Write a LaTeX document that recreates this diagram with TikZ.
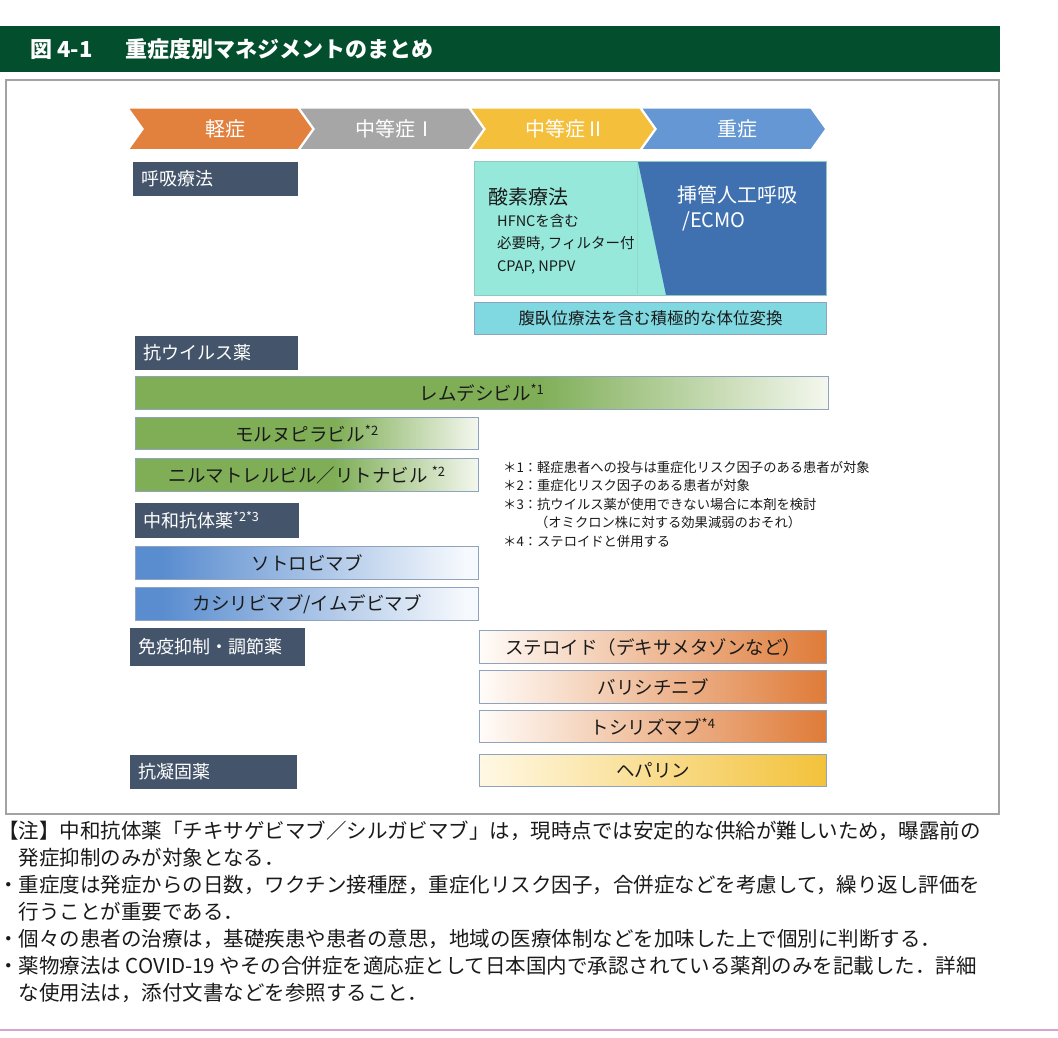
\documentclass[tikz,border=0pt]{standalone}
\usepackage{fontspec}
\setmainfont{Noto Sans CJK JP}
\definecolor{hgreen}{HTML}{034E2D}
\definecolor{slate}{HTML}{44546A}
\definecolor{chO}{HTML}{E2803E}
\definecolor{chG}{HTML}{A6A6A6}
\definecolor{chY}{HTML}{F4BF3A}
\definecolor{chB}{HTML}{6497D3}
\definecolor{teal}{HTML}{96E8DA}
\definecolor{dkblue}{HTML}{3F71B0}
\definecolor{cyanbox}{HTML}{80D9E1}
\definecolor{barline}{HTML}{8FA2BE}
\definecolor{gG}{HTML}{7FAE57}
\definecolor{gW}{HTML}{F4F7EE}
\definecolor{bB}{HTML}{5A8DCF}
\definecolor{bW}{HTML}{F6F9FD}
\definecolor{oW}{HTML}{FFFCF9}
\definecolor{oO}{HTML}{DF7B38}
\definecolor{yW}{HTML}{FFF8E4}
\definecolor{yY}{HTML}{F3C23A}
\definecolor{framegray}{HTML}{A3A3A3}
\definecolor{pinkline}{HTML}{D3A5CF}
\definecolor{txt}{HTML}{1A1A1A}
\pgfdeclarehorizontalshading{greenfade}{100bp}{color(0bp)=(gG); color(25bp)=(gG); color(54bp)=(gG); color(75bp)=(gW); color(100bp)=(gW)}
\pgfdeclarehorizontalshading{bluefade}{100bp}{color(0bp)=(bB); color(25bp)=(bB); color(29bp)=(bB); color(73bp)=(bW); color(100bp)=(bW)}
\pgfdeclarehorizontalshading{orangefade}{100bp}{color(0bp)=(oW); color(25bp)=(oW); color(75bp)=(oO); color(100bp)=(oO)}
\pgfdeclarehorizontalshading{yellowfade}{100bp}{color(0bp)=(yW); color(25bp)=(yW); color(75bp)=(yY); color(100bp)=(yY)}
\newcommand\chevshape[2]{\fill[#2, draw=white, line width=1.5pt] ({#1},108) -- ({#1+170},108) -- ({#1+185},129) -- ({#1+170},150) -- ({#1},150) -- ({#1+15},129) -- cycle;}
\begin{document}
\begin{tikzpicture}[x=1pt,y=-1pt,
  lab/.style={fill=slate, draw=slate, text=white, anchor=north west, inner xsep=8pt, inner ysep=0pt, align=left, font=\fontsize{18}{21}\selectfont},
  bar/.style={draw=barline, line width=1.2pt, anchor=north west, inner sep=0pt, font=\fontsize{18.5}{22}\selectfont, text=txt},
  chevtxt/.style={text=white, font=\fontsize{20}{24}\selectfont}]
\useasboundingbox (0,0) rectangle (1058,1038);
\fill[white] (0,0) rectangle (1058,1038);
% header
\fill[hgreen] (0,26) rectangle (1000,72);
\node[anchor=west, text=white, font=\fontsize{22}{25}\selectfont\bfseries, inner sep=0pt] (title) at (30,49) {図 4-1\hspace{1.5em}重症度別マネジメントのまとめ};
% frame
\draw[framegray, line width=1.3pt] (6,80) rectangle (999,814);
% chevrons
\chevshape{128}{chO}
\chevshape{299}{chG}
\chevshape{470}{chY}
\chevshape{641}{chB}
\node[chevtxt] (c1) at (225,129) {軽症};
\node[chevtxt] (c2) at (395,129) {中等症Ⅰ};
\node[chevtxt] (c3) at (565,129) {中等症Ⅱ};
\node[chevtxt] (c4) at (737,129) {重症};
% respiratory
\node[lab, minimum width=164pt, minimum height=33pt, text width=148pt] (resp) at (133,162) {呼吸療法};
\fill[teal] (474,162) rectangle (826,295);
\fill[dkblue] (638,162) -- (826,162) -- (826,295) -- (666,295) -- cycle;
\draw[teal!85!gray, line width=0.5pt] (637,163) -- (637,294);
\draw[teal!70!gray, line width=1pt] (474,162) rectangle (826,295);
\node[anchor=west, inner sep=0pt, text=txt, font=\fontsize{20}{24}\selectfont] (oxy) at (488,197) {酸素療法};
\node[anchor=north west, inner sep=0pt, text=txt, align=left, font=\fontsize{14.5}{22.5}\selectfont] (oxyd) at (497,214) {HFNCを含む\\必要時, フィルター付\\CPAP, NPPV};
\node[anchor=north west, inner sep=0pt, text=white, align=left, font=\fontsize{20}{25}\selectfont] (intub) at (677,185) {挿管人工呼吸\\\hspace*{0.25em}/ECMO};
\node[draw=barline, line width=1.2pt, fill=cyanbox, anchor=north west, inner sep=0pt, minimum width=352pt, minimum height=32pt, text=txt, font=\fontsize{16.5}{20}\selectfont] (prone) at (474,302) {腹臥位療法を含む積極的な体位変換};
% antivirals
\node[lab, minimum width=162pt, minimum height=33pt, text width=146pt] (antiv) at (135,336) {抗ウイルス薬};
\node[bar, shading=greenfade, minimum width=693pt, minimum height=33pt] (remd) at (135,376) {レムデシビル\textsuperscript{*1}};
\node[bar, shading=greenfade, minimum width=343pt, minimum height=32pt] (moln) at (135,417) {モルヌピラビル\textsuperscript{*2}};
\node[bar, shading=greenfade, minimum width=343pt, minimum height=33pt] (nirm) at (135,458) {ニルマトレルビル／リトナビル \textsuperscript{*2}};
% footnotes
\node[anchor=north west, inner sep=0pt, text=txt, align=left, font=\fontsize{13.3}{18.5}\selectfont] (fn) at (503,461) {＊1：軽症患者への投与は重症化リスク因子のある患者が対象\\＊2：重症化リスク因子のある患者が対象\\＊3：抗ウイルス薬が使用できない場合に本剤を検討\\\hspace*{2.4em}（オミクロン株に対する効果減弱のおそれ）\\＊4：ステロイドと併用する};
% neutralizing antibodies
\node[lab, minimum width=163pt, minimum height=34pt, text width=147pt] (nab) at (135,503) {中和抗体薬\textsuperscript{*2*3}};
\node[bar, shading=bluefade, minimum width=343pt, minimum height=33pt] (soto) at (135,546) {ソトロビマブ};
\node[bar, shading=bluefade, minimum width=343pt, minimum height=33pt] (casi) at (135,587) {カシリビマブ/イムデビマブ};
% immunomodulators
\node[lab, minimum width=174pt, minimum height=37pt, text width=158pt] (immu) at (130,628) {免疫抑制・調節薬};
\node[bar, shading=orangefade, minimum width=347pt, minimum height=33pt] (ster) at (479,630) {ステロイド（デキサメタゾンなど）};
\node[bar, shading=orangefade, minimum width=347pt, minimum height=33pt] (bari) at (479,670) {バリシチニブ};
\node[bar, shading=orangefade, minimum width=347pt, minimum height=32pt] (toci) at (479,710) {トシリズマブ\textsuperscript{*4}};
% anticoagulants
\node[lab, minimum width=166pt, minimum height=33pt, text width=150pt] (anco) at (130,755) {抗凝固薬};
\node[bar, shading=yellowfade, minimum width=347pt, minimum height=32pt] (hepa) at (479,754) {ヘパリン};
% notes
\node[anchor=north west, inner sep=0pt, text=txt, align=left, font=\fontsize{20.5}{27}\selectfont] (notes) at (-2,821) {【注】中和抗体薬「チキサゲビマブ／シルガビマブ」は，現時点では安定的な供給が難しいため，曝露前の\\\hspace*{1em}発症抑制のみが対象となる．\\・重症度は発症からの日数，ワクチン接種歴，重症化リスク因子，合併症などを考慮して，繰り返し評価を\\\hspace*{1em}行うことが重要である．\\・個々の患者の治療は，基礎疾患や患者の意思，地域の医療体制などを加味した上で個別に判断する．\\・薬物療法は COVID-19 やその合併症を適応症として日本国内で承認されている薬剤のみを記載した．詳細\\\hspace*{1em}な使用法は，添付文書などを参照すること．};
\draw[pinkline, line width=1.5pt] (0,1030) -- (1058,1030);
\end{tikzpicture}
\end{document}
